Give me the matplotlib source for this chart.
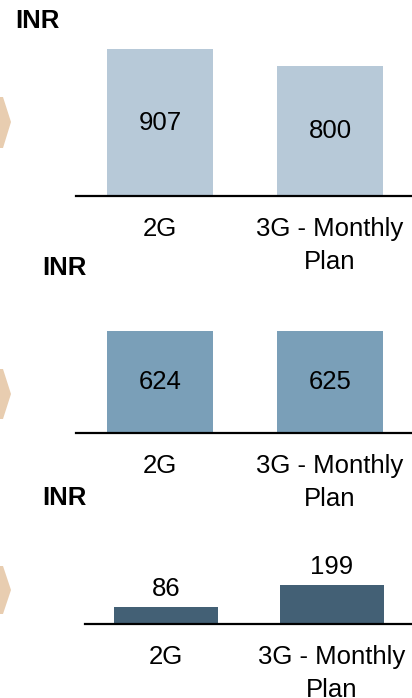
import matplotlib
matplotlib.use("Agg")
import matplotlib.pyplot as plt
from matplotlib.patches import Polygon

plt.rcParams['font.family'] = ['Liberation Sans', 'DejaVu Sans']

categories = ["2G", "3G - Monthly\nPlan"]
values_1 = [907, 800]
values_2 = [624, 625]
values_3 = [86, 199]
unit_label = "INR"

colors = ["#B7C9D8", "#7A9FB8", "#436075"]
chevron_color = "#E8CDB0"

W, H = 412, 698
DPI = 100
fig = plt.figure(figsize=(W / DPI, H / DPI), dpi=DPI)

FS = 18.5


def add_panel(left_px, right_px, base_px, top_px, xlim, ylim_top, vals, color, inside, unit_xy):
    ax = fig.add_axes([left_px / W, 1 - base_px / H, (right_px - left_px) / W, (base_px - top_px) / H])
    x = list(range(len(vals)))
    bars = ax.bar(x, vals, width=0.625, color=color, zorder=2)
    ax.set_xlim(*xlim)
    ax.set_ylim(0, ylim_top)
    for s in ["top", "right", "left"]:
        ax.spines[s].set_visible(False)
    ax.spines["bottom"].set_linewidth(1.6)
    ax.spines["bottom"].set_color("black")
    ax.set_yticks([])
    ax.set_xticks(x)
    ax.set_xticklabels(categories, fontsize=FS, linespacing=1.5)
    ax.tick_params(axis="x", length=0, pad=15)
    if inside:
        ax.bar_label(bars, labels=[str(v) for v in vals], label_type="center", fontsize=FS)
    else:
        ax.bar_label(bars, labels=[str(v) for v in vals], padding=4, fontsize=FS)
    fig.text(unit_xy[0] / W, 1 - unit_xy[1] / H, unit_label, fontsize=FS, fontweight="bold",
             ha="left", va="center")
    ax.patch.set_alpha(0)
    return ax


# panel 1
add_panel(76, 412, 196, 40, (-0.494, 1.482), (196 - 40) / 0.162, values_1, colors[0], True, (15, 21))
# panel 2
add_panel(76, 412, 433, 300, (-0.494, 1.482), (433 - 300) / 0.164, values_2, colors[1], True, (42, 268))
# panel 3
add_panel(85, 412, 624, 530, (-0.488, 1.482), (624 - 530) / 0.198, values_3, colors[2], False, (42, 498))

# chevron tips at the left edge
for top, tip, bot in [(97, 122, 148), (369, 394, 419), (566, 590, 614)]:
    pts = [(0, 1 - top / H), (3 / W, 1 - top / H), (11 / W, 1 - tip / H), (3 / W, 1 - bot / H), (0, 1 - bot / H)]
    fig.add_artist(Polygon(pts, closed=True, transform=fig.transFigure, facecolor=chevron_color,
                           edgecolor="none"))

fig.savefig("out.png", dpi=DPI)
